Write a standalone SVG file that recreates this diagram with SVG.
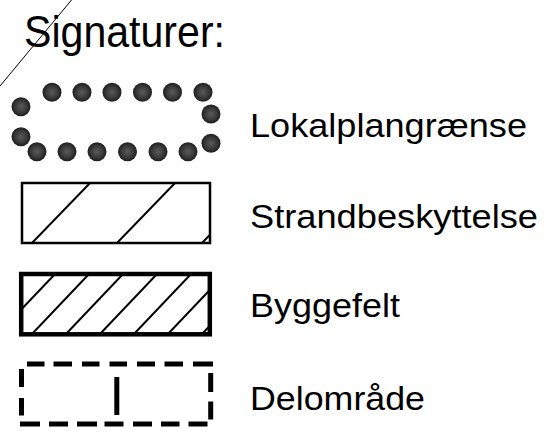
<svg xmlns="http://www.w3.org/2000/svg" width="557" height="439" viewBox="0 0 557 439">
  <style>
    .lbl { font-family: "Liberation Sans", Arial, sans-serif; fill: #000; }
    .frame { fill: none; stroke: #000; }
    .hatch { stroke: #000; stroke-width: 2; fill: none; }
    .dash { stroke: #000; stroke-width: 5; stroke-linecap: butt; }
    .dot { fill: url(#dotFill); }
  </style>
  <defs>
    <radialGradient id="dotFill" cx="0.5" cy="0.5" r="0.5">
      <stop offset="0" stop-color="#5a5a5a"/>
      <stop offset="0.6" stop-color="#3a3a3a"/>
      <stop offset="1" stop-color="#1e1e1e"/>
    </radialGradient>
    <clipPath id="clipStrand">
      <rect x="22" y="183" width="188" height="60"/>
    </clipPath>
    <clipPath id="clipBygge">
      <rect x="21" y="274" width="189" height="60"/>
    </clipPath>
  </defs>

  <rect width="557" height="439" fill="#fff"/>

  <!-- thin diagonal stroke across the heading -->
  <line x1="71.5" y1="0" x2="0" y2="86" stroke="#000" stroke-width="1"/>

  <text class="lbl" x="24" y="46.7" font-size="44" textLength="201" lengthAdjust="spacingAndGlyphs">Signaturer:</text>

  <!-- Lokalplangrænse: dotted boundary -->
  <g id="lokalplan">
    <circle class="dot" cx="52" cy="92.3" r="9.5"/>
    <circle class="dot" cx="82" cy="92.3" r="9.5"/>
    <circle class="dot" cx="112" cy="92.3" r="9.5"/>
    <circle class="dot" cx="142.5" cy="92.3" r="9.5"/>
    <circle class="dot" cx="172.5" cy="92.3" r="9.5"/>
    <circle class="dot" cx="203" cy="92.3" r="9.5"/>
    <circle class="dot" cx="21" cy="106.7" r="9.5"/>
    <circle class="dot" cx="21" cy="136.7" r="9.5"/>
    <circle class="dot" cx="211" cy="114" r="9.5"/>
    <circle class="dot" cx="211" cy="143.3" r="9.5"/>
    <circle class="dot" cx="37" cy="151.7" r="9.5"/>
    <circle class="dot" cx="67" cy="151.7" r="9.5"/>
    <circle class="dot" cx="97" cy="151.7" r="9.5"/>
    <circle class="dot" cx="127.5" cy="151.7" r="9.5"/>
    <circle class="dot" cx="158" cy="151.7" r="9.5"/>
    <circle class="dot" cx="188" cy="151.7" r="9.5"/>
    <text class="lbl" x="250" y="136.7" font-size="34" textLength="277" lengthAdjust="spacingAndGlyphs">Lokalplangrænse</text>
  </g>

  <!-- Strandbeskyttelse: open hatching -->
  <g id="strandbeskyttelse">
    <g clip-path="url(#clipStrand)">
      <line class="hatch" x1="90" y1="183" x2="32" y2="243"/>
      <line class="hatch" x1="175" y1="183" x2="117" y2="243"/>
      <line class="hatch" x1="260" y1="183" x2="202" y2="243"/>
    </g>
    <rect class="frame" x="22" y="183" width="188" height="60" stroke-width="2.5"/>
    <text class="lbl" x="250" y="227.7" font-size="34" textLength="288" lengthAdjust="spacingAndGlyphs">Strandbeskyttelse</text>
  </g>

  <!-- Byggefelt: dense hatching, heavy frame -->
  <g id="byggefelt">
    <g clip-path="url(#clipBygge)">
      <line class="hatch" x1="55" y1="274" x2="-2" y2="334"/>
      <line class="hatch" x1="89" y1="274" x2="32" y2="334"/>
      <line class="hatch" x1="123" y1="274" x2="66" y2="334"/>
      <line class="hatch" x1="157" y1="274" x2="100" y2="334"/>
      <line class="hatch" x1="191" y1="274" x2="134" y2="334"/>
      <line class="hatch" x1="225" y1="274" x2="168" y2="334"/>
      <line class="hatch" x1="259" y1="274" x2="202" y2="334"/>
    </g>
    <rect class="frame" x="21.2" y="274" width="188.6" height="60.3" stroke-width="4.5"/>
    <text class="lbl" x="250" y="317.3" font-size="34" textLength="150" lengthAdjust="spacingAndGlyphs">Byggefelt</text>
  </g>

  <!-- Delområde: dashed frame with centre bar -->
  <g id="delomraade">
    <line class="dash" x1="27" y1="364" x2="44.5" y2="364"/>
    <line class="dash" x1="53.5" y1="364" x2="72" y2="364"/>
    <line class="dash" x1="82" y1="364" x2="99.5" y2="364"/>
    <line class="dash" x1="109.5" y1="364" x2="127" y2="364"/>
    <line class="dash" x1="137" y1="364" x2="155" y2="364"/>
    <line class="dash" x1="164.5" y1="364" x2="183" y2="364"/>
    <line class="dash" x1="193" y1="364" x2="213" y2="364"/>
    <line class="dash" x1="20" y1="424" x2="40" y2="424"/>
    <line class="dash" x1="49" y1="424" x2="68" y2="424"/>
    <line class="dash" x1="77" y1="424" x2="97" y2="424"/>
    <line class="dash" x1="104.5" y1="424" x2="123.5" y2="424"/>
    <line class="dash" x1="133" y1="424" x2="152" y2="424"/>
    <line class="dash" x1="161" y1="424" x2="179.5" y2="424"/>
    <line class="dash" x1="188.5" y1="424" x2="207.5" y2="424"/>
    <line class="dash" x1="21.5" y1="369" x2="21.5" y2="387"/>
    <line class="dash" x1="21.5" y1="398" x2="21.5" y2="415.5"/>
    <line class="dash" x1="210.7" y1="373" x2="210.7" y2="392"/>
    <line class="dash" x1="210.7" y1="401.5" x2="210.7" y2="419.5"/>
    <rect x="114.3" y="377" width="5" height="38" fill="#000"/>
    <text class="lbl" x="250" y="410" font-size="34" textLength="175" lengthAdjust="spacingAndGlyphs">Delområde</text>
  </g>
</svg>
